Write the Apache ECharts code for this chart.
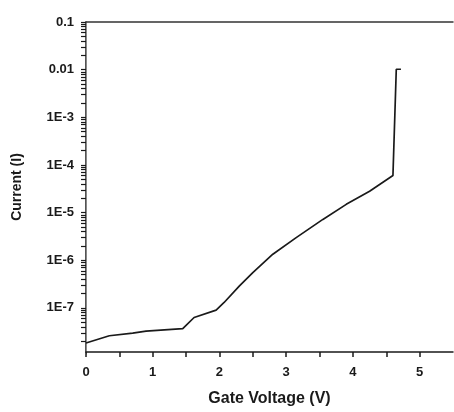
<!DOCTYPE html>
<html>
<head>
<meta charset="utf-8">
<script src="https://cdn.jsdelivr.net/npm/echarts@6/dist/echarts.min.js"></script>
<style>
  html, body { margin: 0; padding: 0; background: #fff; }
  #chart { width: 454px; height: 412px; }
</style>
</head>
<body>
<div id="chart"></div>
<script>
// gate voltage (V) vs drain current (A)
const voltage = [0, 0.35, 0.70, 0.90, 1.45, 1.62, 1.95, 2.07, 2.30, 2.50, 2.80, 3.15, 3.55, 3.90, 4.25, 4.60, 4.65, 4.72]
const current = [1.84e-8, 2.61e-8, 2.97e-8, 3.27e-8, 3.66e-8, 6.3e-8, 9.0e-8, 1.30e-7, 2.90e-7, 5.5e-7,
                 1.34e-6, 2.99e-6, 7.2e-6, 1.49e-5, 2.8e-5, 6.0e-5, 1.02e-2, 1.02e-2]

// y axis works on log10(I)
const yDecades = [-7, -6, -5, -4, -3, -2, -1]
const yLabels = ['1E-7', '1E-6', '1E-5', '1E-4', '1E-3', '0.01', '0.1']
const yMin = -7.925
const yMax = -1

const xMajor = [0, 1, 2, 3, 4, 5]
const xMinor = [0.5, 1.5, 2.5, 3.5, 4.5]

// decade ticks plus minor log ticks (2..9 within each decade)
const yTicks = yDecades.slice()
for (let d = -8; d < -1; d++) {
    for (let k = 2; k <= 9; k++) {
        const v = d + Math.log10(k)
        if (v >= yMin && v <= yMax) yTicks.push(Math.round(v * 1000) / 1000)
    }
}
yTicks.sort((a, b) => a - b)
const xTicks = xMajor.concat(xMinor).sort((a, b) => a - b)

const font = 'Liberation Sans, Arial, sans-serif'
const ink = '#1a1a1a'
const box = { left: 86, right: 1, top: 22, bottom: 58 }

const chart = echarts.init(document.getElementById('chart'))

chart.setOption({
    animation: false,
    // second grid on the same rectangle only draws the top/right frame
    grid: [box, box],
    xAxis: [
        {
            type: 'value', gridIndex: 0, min: 0, max: 5.5,
            name: 'Gate Voltage (V)', nameLocation: 'middle', nameGap: 39,
            nameTextStyle: { fontFamily: font, fontWeight: 'bold', fontSize: 16, color: ink },
            splitLine: { show: false },
            axisLine: { show: true, lineStyle: { color: ink, width: 1.5 } },
            axisTick: { show: true, customValues: xTicks, length: 5, lineStyle: { color: ink, width: 1.5 } },
            axisLabel: {
                customValues: xMajor, margin: 14,
                fontFamily: font, fontWeight: 'bold', fontSize: 13, color: ink
            }
        },
        {
            type: 'value', gridIndex: 1, min: 0, max: 5.5, position: 'top',
            splitLine: { show: false },
            axisLine: { show: true, lineStyle: { color: '#333', width: 1.5 } },
            axisTick: { show: false },
            axisLabel: { show: false }
        }
    ],
    yAxis: [
        {
            type: 'value', gridIndex: 0, min: yMin, max: yMax,
            name: 'Current (I)', nameLocation: 'middle', nameGap: 62,
            nameTextStyle: { fontFamily: font, fontWeight: 'bold', fontSize: 14, color: ink },
            splitLine: { show: false },
            axisLine: { show: true, lineStyle: { color: ink, width: 1.5 } },
            axisTick: { show: true, customValues: yTicks, length: 5, lineStyle: { color: ink, width: 1.2 } },
            axisLabel: {
                customValues: yDecades, margin: 12,
                fontFamily: font, fontWeight: 'bold', fontSize: 13, color: ink,
                formatter: v => yLabels[yDecades.indexOf(Math.round(v))]
            }
        },
        {
            type: 'value', gridIndex: 1, min: yMin, max: yMax, position: 'right',
            splitLine: { show: false },
            axisLine: { show: true, lineStyle: { color: '#888', width: 1 } },
            axisTick: { show: false },
            axisLabel: { show: false }
        }
    ],
    series: [
        {
            type: 'line',
            xAxisIndex: 0, yAxisIndex: 0,
            data: voltage.map((v, i) => [v, Math.log10(current[i])]),
            showSymbol: false,
            lineStyle: { color: ink, width: 1.7 }
        }
    ]
})
</script>
</body>
</html>
